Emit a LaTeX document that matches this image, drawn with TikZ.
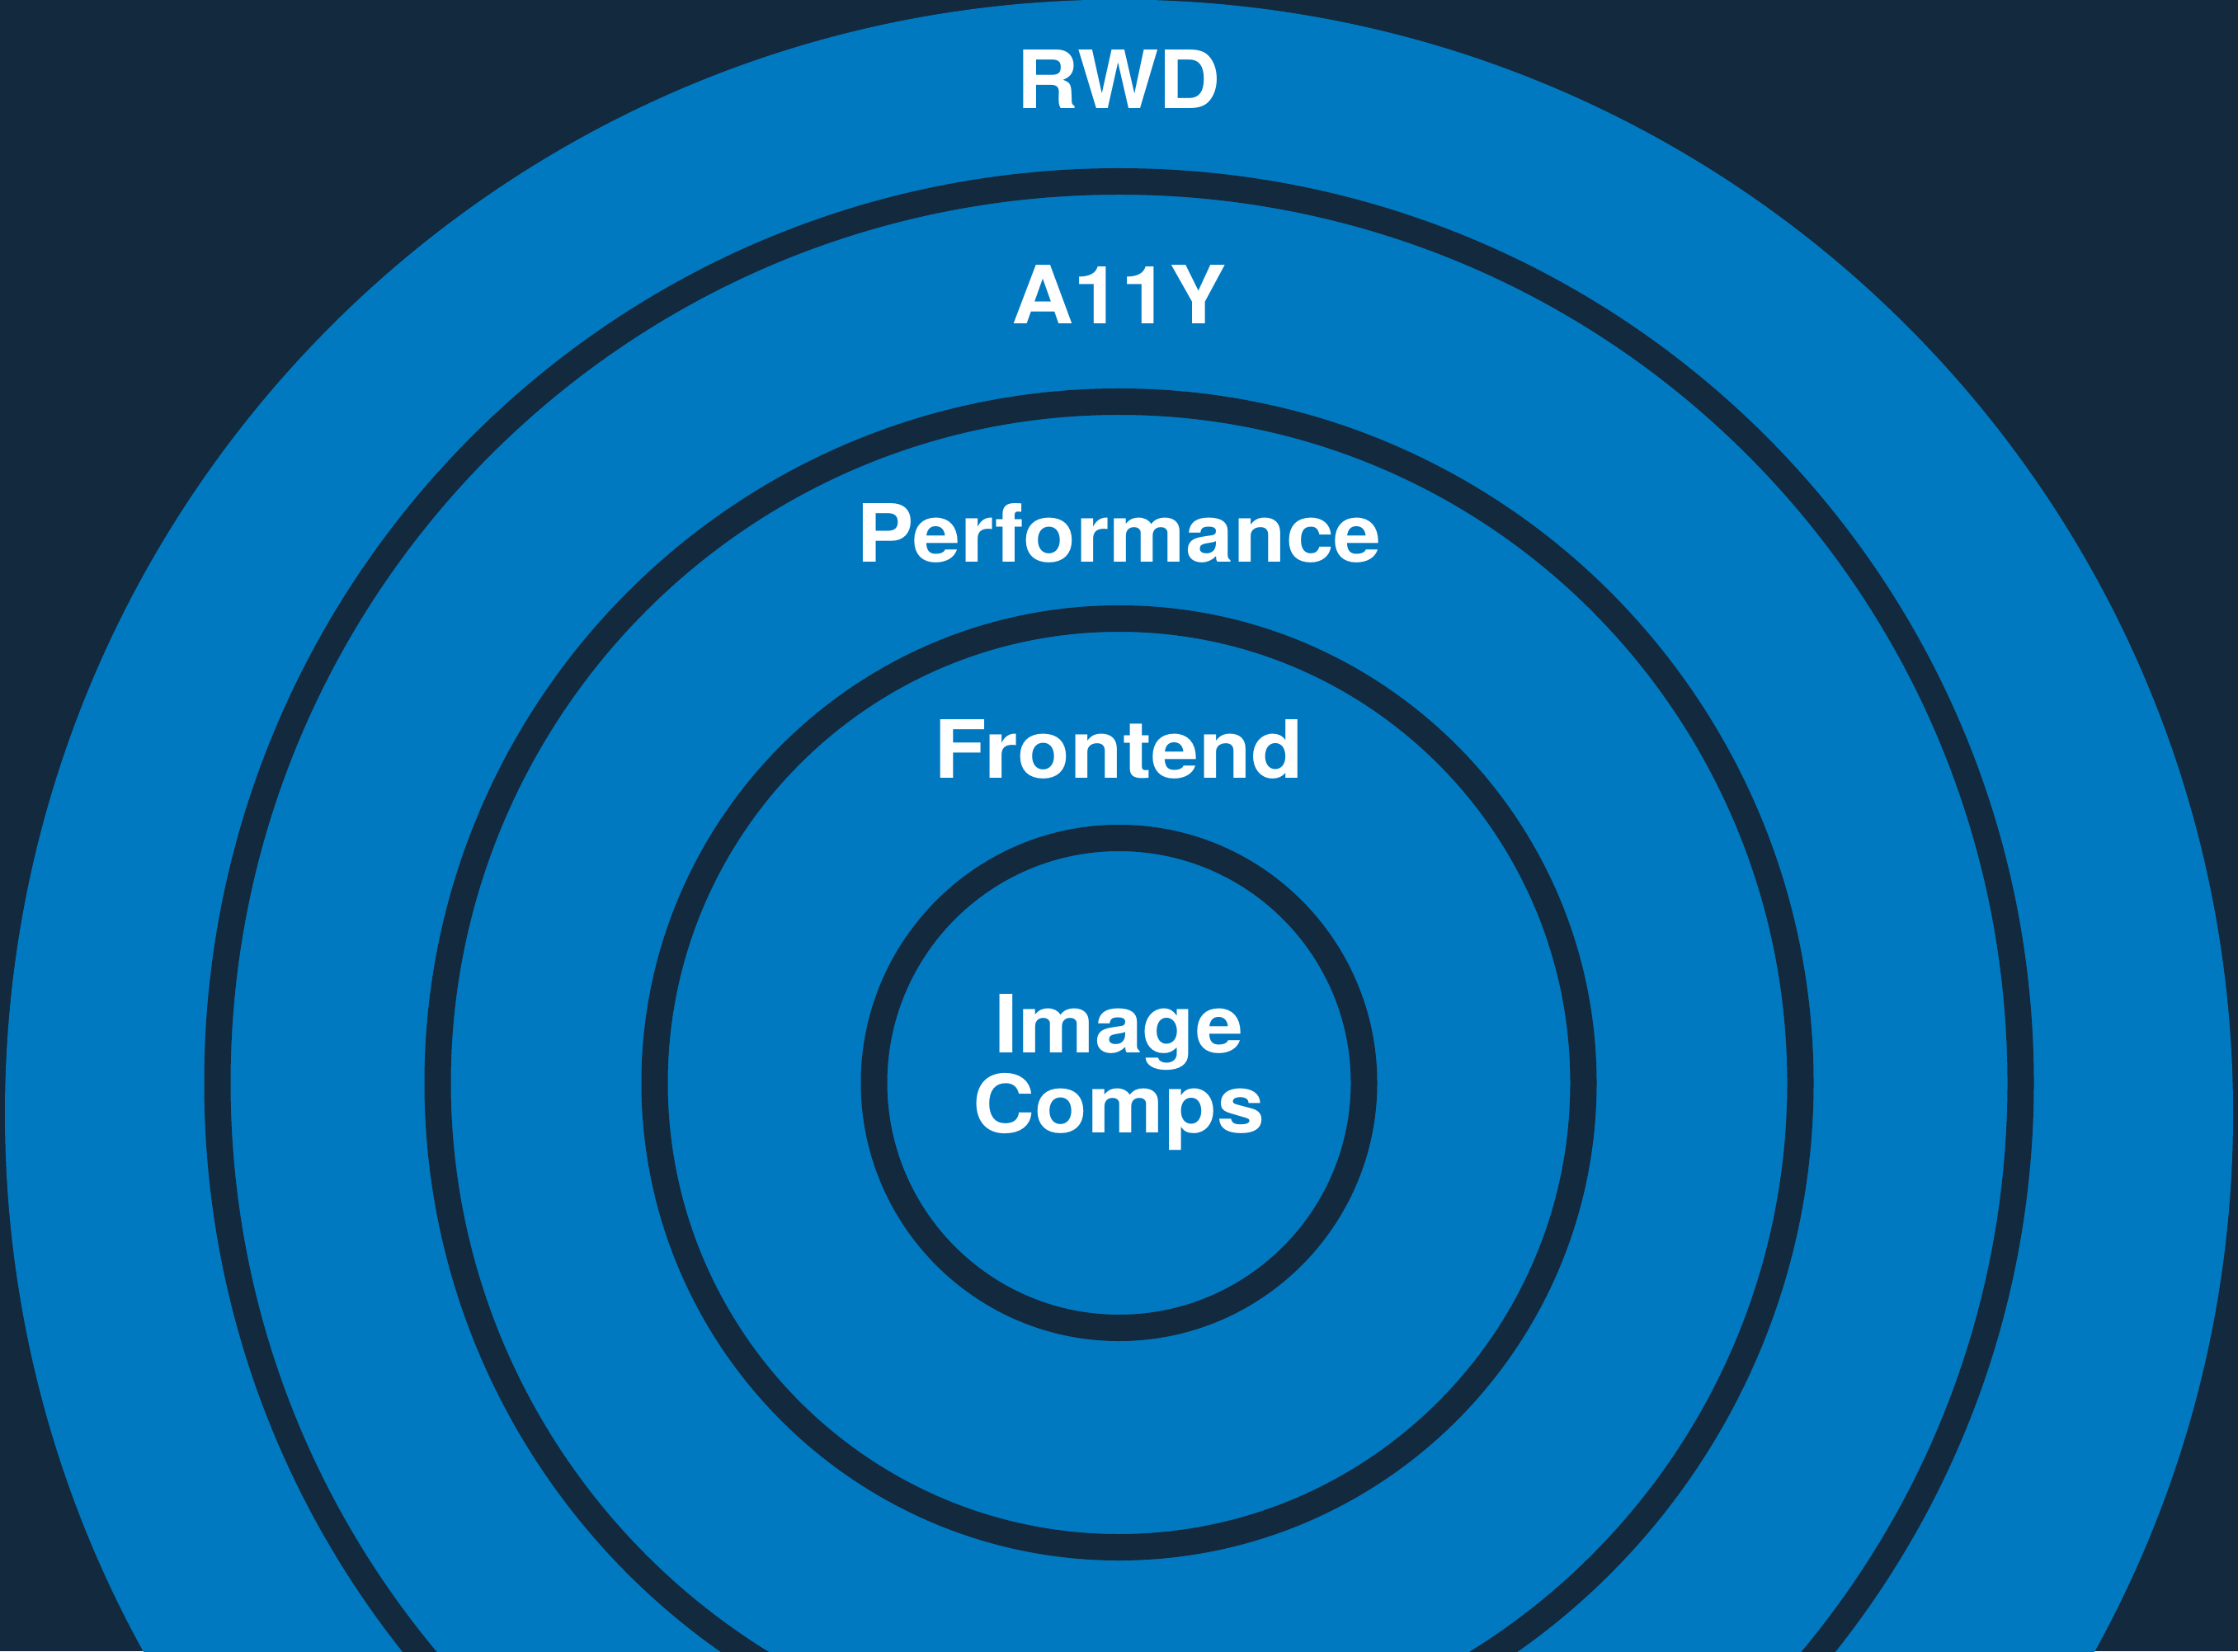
\documentclass[tikz,border=0pt]{standalone}
\usepackage{fontspec}
\setmainfont[FakeStretch=1.07]{TeX Gyre Heros}
\usetikzlibrary{calc,positioning}
\definecolor{ringblue}{HTML}{0079C1}
\definecolor{nightnavy}{HTML}{13293D}

\begin{document}
\begin{tikzpicture}[
    ring/.style={draw=nightnavy,line width=0.32cm},
    ringlabel/.style={text=white,font=\bfseries\fontsize{27.7pt}{26pt}\selectfont,anchor=base,inner sep=0pt,align=center}]
    \useasboundingbox (0,0) rectangle (27.13,20.02);
    \clip (0,0) rectangle (27.13,20.02);
    \fill[nightnavy] (0,0) rectangle (27.13,20.02);
    \coordinate (Centre) at (13.565,6.89);
    \coordinate (OuterCentre) at (13.565,6.52);
    %
    \fill[ringblue] (OuterCentre) circle (13.505);
    \foreach \r in {10.93,8.26,5.63,2.97}
        \draw[ring] (Centre) circle (\r);
    %
    \node[ringlabel] (RWD) at ($(Centre)+(0,11.813)$) {RWD};
    \node[ringlabel] (A11Y) at ($(Centre)+(0,9.20)$) {A11Y};
    \node[ringlabel] (Performance) at ($(Centre)+(0,6.313)$) {Performance};
    \node[ringlabel] (Frontend) at ($(Centre)+(0,3.697)$) {Frontend};
    \node[ringlabel] (ImageComps) at ($(Centre)+(0,-0.603)$) {Image\\Comps};
\end{tikzpicture}
\end{document}
